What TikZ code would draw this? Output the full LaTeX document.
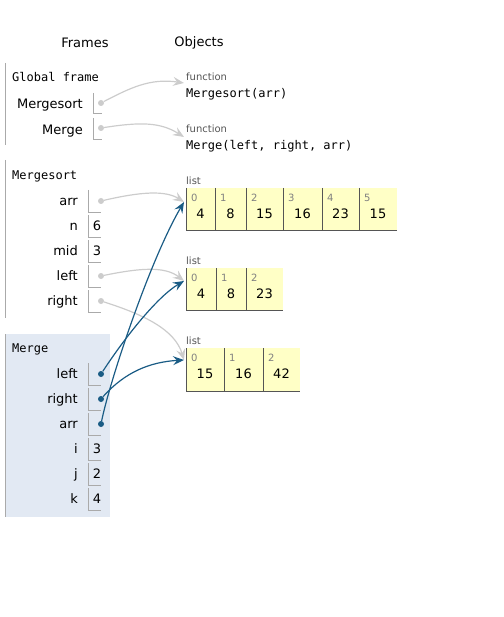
\documentclass[tikz,border=0pt]{standalone}
\usepackage{fontspec}
\setmainfont{DejaVu Sans}
\newfontfamily\codefont{DejaVu Sans Mono}
\usetikzlibrary{arrows.meta}

\definecolor{framegray}{HTML}{AAAAAA}
\definecolor{refgray}{HTML}{CCCCCC}
\definecolor{refblue}{HTML}{1A5C85}
\definecolor{cellyellow}{HTML}{FFFFC6}
\definecolor{cellline}{HTML}{555555}
\definecolor{framebg}{HTML}{E2E9F3}
\definecolor{taggray}{HTML}{555555}
\definecolor{idxgray}{HTML}{808080}

\begin{document}
\begin{tikzpicture}[x=1pt,y=-1pt,
    lbl/.style={inner sep=0pt,yshift=-2pt,font=\fontsize{13}{15}\selectfont},
    varname/.style={lbl,anchor=mid east},
    numval/.style={lbl,anchor=mid},
    fncode/.style={inner sep=0pt,yshift=-2pt,anchor=mid west,font=\codefont\fontsize{12}{14}\selectfont},
    tag/.style={inner sep=0pt,yshift=-1.5pt,anchor=mid west,text=taggray,font=\fontsize{10}{12}\selectfont},
    idx/.style={inner sep=0pt,yshift=-1.5pt,anchor=mid west,text=idxgray,font=\fontsize{10}{12}\selectfont},
    vbox/.style={draw=framegray,line width=0.8pt},
    gdot/.style={circle,fill=refgray,inner sep=0pt,minimum size=6pt},
    bdot/.style={circle,fill=refblue,inner sep=0pt,minimum size=6pt},
    gref/.style={draw=refgray,line width=1.2pt,-{Stealth[length=11pt,width=9pt,inset=4pt]}},
    bref/.style={draw=refblue,line width=1.2pt,-{Stealth[length=11pt,width=9pt,inset=4pt]}}]
    \useasboundingbox (0,0) rectangle (503,617);

    % headings
    \node[lbl] (frames) at (85,41) {Frames};
    \node[lbl] (objects) at (199,41) {Objects};

    % global frame
    \draw[framegray,line width=1pt] (5,63) -- (5,145);
    \node[fncode] (global) at (12,77) {Global frame};
    \node[varname] (g-ms-name) at (83,104) {Mergesort};
    \draw[vbox] (93,93) -- (93,113) -- (102,113);
    \node[gdot] (g-ms) at (101,103) {};
    \node[varname] (g-mg-name) at (83,130) {Merge};
    \draw[vbox] (93,118) -- (93,139) -- (102,139);
    \node[gdot] (g-mg) at (101,128) {};

    % function objects
    \node[tag] (fn1-tag) at (186,76) {function};
    \node[fncode] (fn1) at (186,93) {Mergesort(arr)};
    \node[tag] (fn2-tag) at (186,128) {function};
    \node[fncode] (fn2) at (186,145) {Merge(left, right, arr)};
    \coordinate (fn1-in) at (184,83);
    \coordinate (fn2-in) at (184,137);

    % Mergesort frame
    \draw[framegray,line width=1pt] (5,160) -- (5,318);
    \node[fncode] (ms) at (12,175) {Mergesort};
    \foreach \y in {201,226,251,276,301}
        \draw[vbox] (88,\y-11) -- (88,\y+11) -- (101,\y+11);
    \node[varname] (ms-arr-name) at (78,201) {arr};
    \node[gdot] (ms-arr) at (101,201) {};
    \node[varname] (ms-n-name) at (78,226) {n};
    \node[numval] (ms-n) at (97,226) {6};
    \node[varname] (ms-mid-name) at (78,251) {mid};
    \node[numval] (ms-mid) at (97,251) {3};
    \node[varname] (ms-left-name) at (78,276) {left};
    \node[gdot] (ms-left) at (101,276) {};
    \node[varname] (ms-right-name) at (78,301) {right};
    \node[gdot] (ms-right) at (101,301) {};

    % Merge frame
    \fill[framebg] (5,334) rectangle (110,517);
    \draw[framegray,line width=1pt] (5,334) -- (5,517);
    \node[fncode] (mg) at (12,348) {Merge};
    \foreach \y in {374,399,424,449,474,499}
        \draw[vbox] (88,\y-11) -- (88,\y+11) -- (101,\y+11);
    \node[varname] (mg-left-name) at (78,374) {left};
    \node[bdot] (mg-left) at (101,374) {};
    \node[varname] (mg-right-name) at (78,399) {right};
    \node[bdot] (mg-right) at (101,399) {};
    \node[varname] (mg-arr-name) at (78,424) {arr};
    \node[bdot] (mg-arr) at (101,424) {};
    \node[varname] (mg-i-name) at (78,449) {i};
    \node[numval] (mg-i) at (97,449) {3};
    \node[varname] (mg-j-name) at (78,474) {j};
    \node[numval] (mg-j) at (97,474) {2};
    \node[varname] (mg-k-name) at (78,499) {k};
    \node[numval] (mg-k) at (97,499) {4};

    % list objects
    \node[tag] (la-tag) at (186,180) {list};
    \foreach \i/\a/\b/\v in {0/186/215/4,1/215/246/8,2/246/283/15,3/283/322/16,4/322/359/23,5/359/397/15} {
        \fill[cellyellow] (\a,188) rectangle (\b,230);
        \draw[cellline,line width=0.8pt] (\a,188) -- (\a,230) -- (\b,230);
        \node[idx] (la-i\i) at (\a+5,197) {\i};
        \node[numval] (la-\i) at ({(\a+\b)/2},214) {\v};
    }
    \coordinate (la-in) at (184,202);

    \node[tag] (lb-tag) at (186,260) {list};
    \foreach \i/\a/\b/\v in {0/186/216/4,1/216/246/8,2/246/283/23} {
        \fill[cellyellow] (\a,268) rectangle (\b,310);
        \draw[cellline,line width=0.8pt] (\a,268) -- (\a,310) -- (\b,310);
        \node[idx] (lb-i\i) at (\a+5,277) {\i};
        \node[numval] (lb-\i) at ({(\a+\b)/2},294) {\v};
    }
    \coordinate (lb-in) at (184,281);

    \node[tag] (lc-tag) at (186,340) {list};
    \foreach \i/\a/\b/\v in {0/186/224/15,1/224/263/16,2/263/300/42} {
        \fill[cellyellow] (\a,348) rectangle (\b,391);
        \draw[cellline,line width=0.8pt] (\a,348) -- (\a,391) -- (\b,391);
        \node[idx] (lc-i\i) at (\a+5,357) {\i};
        \node[numval] (lc-\i) at ({(\a+\b)/2},374) {\v};
    }
    \coordinate (lc-in) at (184,360);

    % references
    \draw[gref] (g-ms) .. controls (130,88) and (150,78) .. (fn1-in);
    \draw[gref] (g-mg) .. controls (140,122) and (160,122) .. (fn2-in);
    \draw[gref] (ms-arr) .. controls (140,192) and (165,190) .. (la-in);
    \draw[gref] (ms-left) .. controls (140,268) and (165,266) .. (lb-in);
    \draw[gref] (ms-right) .. controls (145,315) and (175,330) .. (lc-in);
    \draw[bref] (mg-left) .. controls (130,330) and (160,295) .. (lb-in);
    \draw[bref] (mg-right) .. controls (125,372) and (150,362) .. (lc-in);
    \draw[bref] (mg-arr) .. controls (110,380) and (150,260) .. (la-in);
\end{tikzpicture}
\end{document}
